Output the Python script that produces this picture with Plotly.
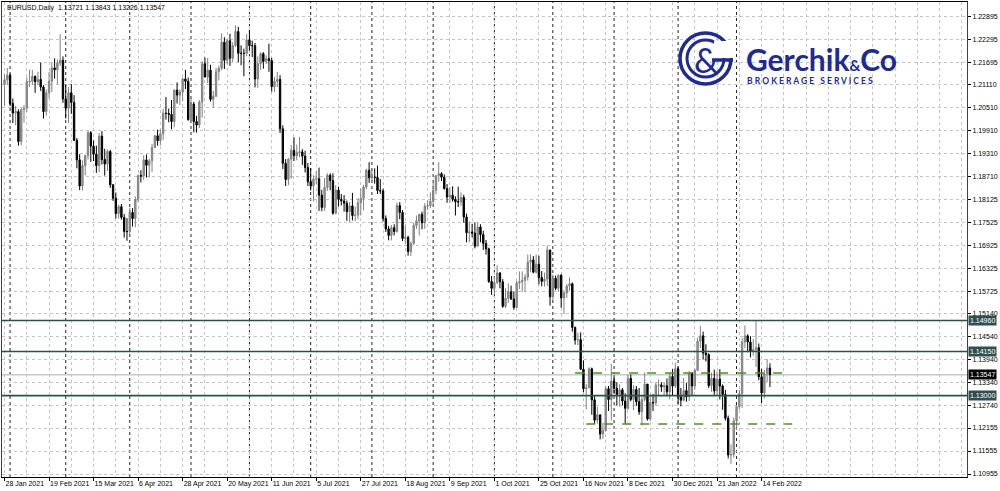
import plotly.graph_objects as go
import pandas as pd

# ---------------- data (EURUSD daily) ----------------
dates = pd.bdate_range("2021-01-28", "2022-02-17")
first_open = 1.2112
last_open = 1.13721

closes = [
    1.2124, 1.2136, 1.2062, 1.2037, 1.2041, 1.1963, 1.2046, 1.2050, 1.2119, 1.2120,
    1.2133, 1.2119, 1.2125, 1.2105, 1.2041, 1.2090, 1.2120, 1.2155, 1.2150, 1.2167,
    1.2175, 1.2074, 1.2050, 1.2090, 1.2065, 1.1966, 1.1915, 1.1847, 1.1900, 1.1926,
    1.1986, 1.1951, 1.1930, 1.1900, 1.1977, 1.1916, 1.1904, 1.1937, 1.1850, 1.1815,
    1.1775, 1.1793, 1.1765, 1.1728, 1.1728, 1.1778, 1.1762, 1.1812, 1.1874, 1.1873,
    1.1915, 1.1901, 1.1912, 1.1947, 1.1978, 1.1965, 1.1983, 1.2037, 1.2036, 1.2034,
    1.2015, 1.2097, 1.2084, 1.2092, 1.2126, 1.2120, 1.2020, 1.2061, 1.2015, 1.2006,
    1.2066, 1.2166, 1.2131, 1.2149, 1.2073, 1.2081, 1.2145, 1.2154, 1.2222, 1.2175,
    1.2226, 1.2180, 1.2213, 1.2250, 1.2193, 1.2193, 1.2193, 1.2228, 1.2213, 1.2213,
    1.2126, 1.2166, 1.2192, 1.2172, 1.2179, 1.2174, 1.2106, 1.2120, 1.2125, 1.1996,
    1.1906, 1.1864, 1.1917, 1.1940, 1.1926, 1.1934, 1.1936, 1.1925, 1.1895, 1.1858,
    1.1847, 1.1865, 1.1866, 1.1823, 1.1791, 1.1843, 1.1875, 1.1861, 1.1776, 1.1836,
    1.1812, 1.1808, 1.1802, 1.1780, 1.1795, 1.1770, 1.1771, 1.1803, 1.1815, 1.1844,
    1.1888, 1.1868, 1.1870, 1.1869, 1.1835, 1.1834, 1.1762, 1.1735, 1.1718, 1.1738,
    1.1728, 1.1796, 1.1778, 1.1710, 1.1713, 1.1676, 1.1697, 1.1744, 1.1756, 1.1773,
    1.1751, 1.1794, 1.1796, 1.1807, 1.1836, 1.1874, 1.1879, 1.1870, 1.1840, 1.1818,
    1.1823, 1.1812, 1.1806, 1.1805, 1.1817, 1.1766, 1.1725, 1.1727, 1.1724, 1.1690,
    1.1740, 1.1720, 1.1697, 1.1683, 1.1598, 1.1580, 1.1595, 1.1620, 1.1597, 1.1533,
    1.1554, 1.1571, 1.1552, 1.1530, 1.1594, 1.1597, 1.1601, 1.1609, 1.1648, 1.1654,
    1.1622, 1.1643, 1.1608, 1.1598, 1.1604, 1.1680, 1.1558, 1.1606, 1.1580, 1.1614,
    1.1555, 1.1568, 1.1586, 1.1592, 1.1478, 1.1445, 1.1446, 1.1369, 1.1318, 1.1320,
    1.1370, 1.1289, 1.1236, 1.1250, 1.1200, 1.1209, 1.1318, 1.1290, 1.1338, 1.1319,
    1.1303, 1.1315, 1.1286, 1.1267, 1.1345, 1.1290, 1.1316, 1.1284, 1.1258, 1.1290,
    1.1330, 1.1239, 1.1282, 1.1281, 1.1328, 1.1328, 1.1323, 1.1326, 1.1310, 1.1350,
    1.1325, 1.1370, 1.1297, 1.1288, 1.1313, 1.1297, 1.1359, 1.1325, 1.1366, 1.1442,
    1.1456, 1.1411, 1.1407, 1.1326, 1.1345, 1.1312, 1.1343, 1.1325, 1.1303, 1.1241,
    1.1145, 1.1146, 1.1234, 1.1271, 1.1305, 1.1440, 1.1456, 1.1440, 1.1416, 1.1420,
    1.1425, 1.1349, 1.1307, 1.1357, 1.1372, 1.13547,
]

highs = [
    1.2140, 1.2155, 1.2140, 1.2075, 1.2056, 1.2047, 1.2050, 1.2058, 1.2130, 1.2150,
    1.2150, 1.2135, 1.2145, 1.2169, 1.2110, 1.2099, 1.2145, 1.2168, 1.2180, 1.2177,
    1.2243, 1.2185, 1.2110, 1.2105, 1.2113, 1.2084, 1.1972, 1.1930, 1.1914, 1.1929,
    1.1990, 1.1990, 1.1966, 1.1952, 1.1985, 1.1990, 1.1944, 1.1942, 1.1941, 1.1852,
    1.1830, 1.1798, 1.1800, 1.1774, 1.1763, 1.1790, 1.1789, 1.1820, 1.1877, 1.1888,
    1.1927, 1.1929, 1.1918, 1.1957, 1.1979, 1.1994, 1.1994, 1.2048, 1.2079, 1.2049,
    1.2071, 1.2099, 1.2117, 1.2099, 1.2130, 1.2150, 1.2130, 1.2076, 1.2066, 1.2030,
    1.2071, 1.2173, 1.2182, 1.2181, 1.2163, 1.2095, 1.2155, 1.2161, 1.2245, 1.2235,
    1.2229, 1.2244, 1.2222, 1.2266, 1.2262, 1.2214, 1.2205, 1.2243, 1.2254, 1.2226,
    1.2220, 1.2185, 1.2196, 1.2196, 1.2188, 1.2218, 1.2181, 1.2131, 1.2144, 1.2136,
    1.2005, 1.1917, 1.1920, 1.1954, 1.1974, 1.1955, 1.1975, 1.1943, 1.1939, 1.1907,
    1.1894, 1.1875, 1.1885, 1.1895, 1.1837, 1.1868, 1.1880, 1.1880, 1.1880, 1.1849,
    1.1845, 1.1826, 1.1823, 1.1809, 1.1805, 1.1829, 1.1793, 1.1815, 1.1840, 1.1850,
    1.1892, 1.1909, 1.1892, 1.1893, 1.1900, 1.1865, 1.1840, 1.1770, 1.1743, 1.1745,
    1.1747, 1.1804, 1.1805, 1.1784, 1.1744, 1.1717, 1.1702, 1.1751, 1.1770, 1.1773,
    1.1780, 1.1802, 1.1810, 1.1830, 1.1857, 1.1875, 1.1909, 1.1883, 1.1877, 1.1852,
    1.1844, 1.1846, 1.1820, 1.1845, 1.1830, 1.1824, 1.1775, 1.1754, 1.1748, 1.1752,
    1.1751, 1.1747, 1.1730, 1.1706, 1.1686, 1.1612, 1.1612, 1.1640, 1.1622, 1.1604,
    1.1580, 1.1593, 1.1587, 1.1571, 1.1600, 1.1624, 1.1624, 1.1617, 1.1668, 1.1669,
    1.1664, 1.1668, 1.1665, 1.1625, 1.1621, 1.1692, 1.1680, 1.1616, 1.1613, 1.1616,
    1.1617, 1.1575, 1.1591, 1.1608, 1.1595, 1.1480, 1.1464, 1.1465, 1.1392, 1.1330,
    1.1374, 1.1373, 1.1300, 1.1271, 1.1250, 1.1229, 1.1325, 1.1325, 1.1383, 1.1353,
    1.1335, 1.1330, 1.1320, 1.1306, 1.1355, 1.1355, 1.1327, 1.1325, 1.1320, 1.1300,
    1.1360, 1.1330, 1.1300, 1.1304, 1.1335, 1.1342, 1.1335, 1.1333, 1.1345, 1.1360,
    1.1369, 1.1386, 1.1376, 1.1320, 1.1346, 1.1333, 1.1364, 1.1360, 1.1370, 1.1451,
    1.1482, 1.1467, 1.1434, 1.1410, 1.1360, 1.1368, 1.1363, 1.1369, 1.1329, 1.1315,
    1.1248, 1.1173, 1.1243, 1.1275, 1.1315, 1.1450, 1.1483, 1.1460, 1.1455, 1.1448,
    1.1495, 1.1436, 1.1370, 1.1367, 1.1395, 1.13843,
]

lows = [
    1.2057, 1.2110, 1.2055, 1.2011, 1.2005, 1.1952, 1.1953, 1.2012, 1.2040, 1.2105,
    1.2110, 1.2090, 1.2110, 1.2095, 1.2023, 1.2030, 1.2075, 1.2092, 1.2127, 1.2113,
    1.2160, 1.2064, 1.2023, 1.2011, 1.2035, 1.1964, 1.1893, 1.1836, 1.1835, 1.1875,
    1.1916, 1.1910, 1.1912, 1.1881, 1.1883, 1.1903, 1.1874, 1.1886, 1.1842, 1.1808,
    1.1762, 1.1762, 1.1759, 1.1712, 1.1704, 1.1717, 1.1741, 1.1739, 1.1805, 1.1856,
    1.1863, 1.1869, 1.1869, 1.1883, 1.1947, 1.1952, 1.1953, 1.1967, 1.2020, 1.2013,
    1.1995, 1.2000, 1.2062, 1.2058, 1.2068, 1.2100, 1.2017, 1.2017, 1.1987, 1.1986,
    1.1998, 1.2025, 1.2131, 1.2115, 1.2067, 1.2051, 1.2080, 1.2122, 1.2149, 1.2152,
    1.2164, 1.2160, 1.2170, 1.2210, 1.2170, 1.2162, 1.2133, 1.2185, 1.2200, 1.2183,
    1.2104, 1.2103, 1.2150, 1.2153, 1.2165, 1.2145, 1.2093, 1.2092, 1.2105, 1.1985,
    1.1891, 1.1847, 1.1849, 1.1866, 1.1912, 1.1914, 1.1922, 1.1902, 1.1882, 1.1847,
    1.1835, 1.1807, 1.1852, 1.1782, 1.1781, 1.1782, 1.1834, 1.1836, 1.1772, 1.1773,
    1.1794, 1.1796, 1.1780, 1.1756, 1.1752, 1.1757, 1.1755, 1.1760, 1.1770, 1.1783,
    1.1838, 1.1855, 1.1857, 1.1853, 1.1826, 1.1826, 1.1754, 1.1727, 1.1705, 1.1705,
    1.1718, 1.1725, 1.1760, 1.1703, 1.1697, 1.1665, 1.1664, 1.1693, 1.1735, 1.1718,
    1.1734, 1.1735, 1.1784, 1.1789, 1.1800, 1.1826, 1.1858, 1.1860, 1.1838, 1.1803,
    1.1802, 1.1806, 1.1770, 1.1792, 1.1795, 1.1751, 1.1700, 1.1700, 1.1713, 1.1684,
    1.1690, 1.1700, 1.1680, 1.1668, 1.1594, 1.1563, 1.1563, 1.1591, 1.1580, 1.1529,
    1.1528, 1.1542, 1.1550, 1.1524, 1.1528, 1.1578, 1.1571, 1.1571, 1.1600, 1.1622,
    1.1619, 1.1618, 1.1590, 1.1585, 1.1584, 1.1586, 1.1535, 1.1550, 1.1575, 1.1571,
    1.1529, 1.1513, 1.1555, 1.1573, 1.1467, 1.1433, 1.1432, 1.1367, 1.1309, 1.1264,
    1.1320, 1.1250, 1.1226, 1.1227, 1.1186, 1.1187, 1.1206, 1.1260, 1.1235, 1.1305,
    1.1274, 1.1271, 1.1275, 1.1227, 1.1263, 1.1285, 1.1262, 1.1273, 1.1250, 1.1222,
    1.1285, 1.1235, 1.1234, 1.1260, 1.1274, 1.1300, 1.1310, 1.1302, 1.1300, 1.1290,
    1.1300, 1.1320, 1.1279, 1.1272, 1.1285, 1.1284, 1.1286, 1.1300, 1.1315, 1.1364,
    1.1424, 1.1394, 1.1389, 1.1320, 1.1310, 1.1302, 1.1301, 1.1290, 1.1263, 1.1235,
    1.1136, 1.1121, 1.1138, 1.1210, 1.1264, 1.1268, 1.1424, 1.1413, 1.1400, 1.1404,
    1.1375, 1.1340, 1.1280, 1.1293, 1.1335, 1.13226,
]

opens = [first_open] + closes[:-1]
opens[-1] = last_open

y_ticks = [1.22895, 1.22295, 1.21695, 1.21110, 1.20510, 1.19910, 1.19310,
           1.18710, 1.18125, 1.17525, 1.16925, 1.16325, 1.15725, 1.15140,
           1.14540, 1.13940, 1.13340, 1.12740, 1.12155, 1.11555, 1.10955]

levels_solid = [1.14960, 1.14150, 1.13000]
bid_price = 1.13547
zone_top = 1.1359
zone_bottom = 1.1226

header = "EURUSD,Daily  1.13721 1.13843 1.13226 1.13547"

# ---------------- derived helpers ----------------
n = len(closes)
xs = list(range(n))
tick_idx = list(range(0, n, 16))
tick_text = [f"{dates[i].day} {dates[i].strftime('%b %Y')}" for i in tick_idx]
month_starts = [i for i in range(1, n) if dates[i].month != dates[i - 1].month]

BLUE = "#1f2b8f"
DARK = "#2f4f4f"
GRID = "#c4c4c4"
GREEN = "#4f8f26"


def px(xp):
    return (xp - 2) / 965.0


def py(yp):
    return (477 - yp) / 475.0


fig = go.Figure()
fig.add_trace(go.Candlestick(
    x=xs, open=opens, high=highs, low=lows, close=closes,
    increasing=dict(line=dict(color="#808080", width=1), fillcolor="#9a9a9a"),
    decreasing=dict(line=dict(color="#000000", width=1), fillcolor="#000000"),
    whiskerwidth=0, showlegend=False, hoverinfo="skip",
))

shapes = []
# period separators (month starts)
for i in month_starts:
    shapes.append(dict(type="line", xref="x", yref="paper", x0=i, x1=i, y0=0, y1=1,
                       line=dict(color="#222222", width=1, dash="dot"), layer="below"))
# bid line
shapes.append(dict(type="line", xref="paper", yref="y", x0=0, x1=1, y0=bid_price, y1=bid_price,
                   line=dict(color="#c8c8c8", width=1.5), layer="below"))
# solid levels
for lv in levels_solid:
    shapes.append(dict(type="line", xref="paper", yref="y", x0=0, x1=1, y0=lv, y1=lv,
                       line=dict(color=DARK, width=1.6)))
# dashed range lines
shapes.append(dict(type="line", xref="x", yref="y", x0=205, x1=281, y0=zone_top, y1=zone_top,
                   line=dict(color=GREEN, width=1.3, dash="dash")))
shapes.append(dict(type="line", xref="x", yref="y", x0=209, x1=283, y0=zone_bottom, y1=zone_bottom,
                   line=dict(color=GREEN, width=1.3, dash="dash")))

# logo emblem
shapes.append(dict(type="circle", xref="paper", yref="paper",
                   x0=px(680), x1=px(731), y0=py(84), y1=py(33),
                   line=dict(color=BLUE, width=3.5)))
shapes.append(dict(type="circle", xref="paper", yref="paper",
                   x0=px(687), x1=px(724), y0=py(77), y1=py(40),
                   line=dict(color=BLUE, width=3)))
shapes.append(dict(type="rect", xref="paper", yref="paper",
                   x0=px(714), x1=px(735), y0=py(58), y1=py(41),
                   line=dict(width=0), fillcolor="white"))
shapes.append(dict(type="line", xref="paper", yref="paper",
                   x0=px(712), x1=px(733), y0=py(60), y1=py(60),
                   line=dict(color=BLUE, width=3.5)))

annotations = []
annotations.append(dict(xref="paper", yref="paper", x=px(5), y=py(8), xanchor="left", yanchor="middle",
                        text=header, showarrow=False,
                        font=dict(family="Liberation Sans", size=7, color="black")))
for lv in levels_solid:
    annotations.append(dict(xref="paper", yref="y", x=1, y=lv, xanchor="left", yanchor="middle",
                            xshift=1, text=f"{lv:.5f}", showarrow=False, bgcolor=DARK, borderpad=1,
                            font=dict(family="Liberation Sans", size=7, color="white")))
annotations.append(dict(xref="paper", yref="y", x=1, y=bid_price, xanchor="left", yanchor="middle",
                        xshift=1, text=f"{bid_price:.5f}", showarrow=False, bgcolor="black", borderpad=1,
                        font=dict(family="Liberation Sans", size=7, color="white")))
# logo texts
annotations.append(dict(xref="paper", yref="paper", x=px(705.5), y=py(59), xanchor="center", yanchor="middle",
                        text="&amp;", showarrow=False,
                        font=dict(family="Lato", size=34, color=BLUE)))
annotations.append(dict(xref="paper", yref="paper", x=px(744), y=py(59), xanchor="left", yanchor="middle",
                        text="<b>Gerchik<span style='font-size:15px'>&amp;</span>Co</b>", showarrow=False,
                        font=dict(family="Lato", size=30, color=BLUE)))
annotations.append(dict(xref="paper", yref="paper", x=px(745), y=py(81), xanchor="left", yanchor="middle",
                        text="<b>B R O K E R A G E   S E R V I C E S</b>", showarrow=False,
                        font=dict(family="Lato", size=8.5, color=BLUE)))

fig.update_layout(
    width=1000, height=491,
    margin=dict(l=2, r=33, t=2, b=14, autoexpand=False),
    paper_bgcolor="white", plot_bgcolor="white",
    showlegend=False,
    shapes=shapes, annotations=annotations,
    xaxis=dict(
        range=[-0.9, 345.8], tickmode="array", tickvals=tick_idx, ticktext=tick_text,
        ticks="outside", ticklen=3, tickcolor="black", ticklabelposition="outside right",
        tickangle=0, automargin=False,
        tickfont=dict(family="Liberation Sans", size=7, color="black"),
        showgrid=True, gridcolor=GRID, griddash="dot", gridwidth=1,
        minor=dict(dtick=8, tick0=0, showgrid=True, gridcolor=GRID, griddash="dot", ticks=""),
        showline=True, mirror=True, linecolor="black", linewidth=1,
        zeroline=False, rangeslider=dict(visible=False),
    ),
    yaxis=dict(
        side="right", range=[1.10877, 1.23269], tickmode="array", tickvals=y_ticks,
        ticktext=[f"{v:.5f}" for v in y_ticks], automargin=False,
        ticks="outside", ticklen=3, tickcolor="black",
        tickfont=dict(family="Liberation Sans", size=7, color="black"),
        showgrid=True, gridcolor=GRID, griddash="dot", gridwidth=1,
        showline=True, mirror=True, linecolor="#404040", linewidth=1, zeroline=False,
    ),
)

fig.write_html(
    "out.html",
    config={"displayModeBar": False},
    post_script="document.body.style.margin='0';document.body.style.padding='0';"
                "document.documentElement.style.overflow='hidden';",
)
